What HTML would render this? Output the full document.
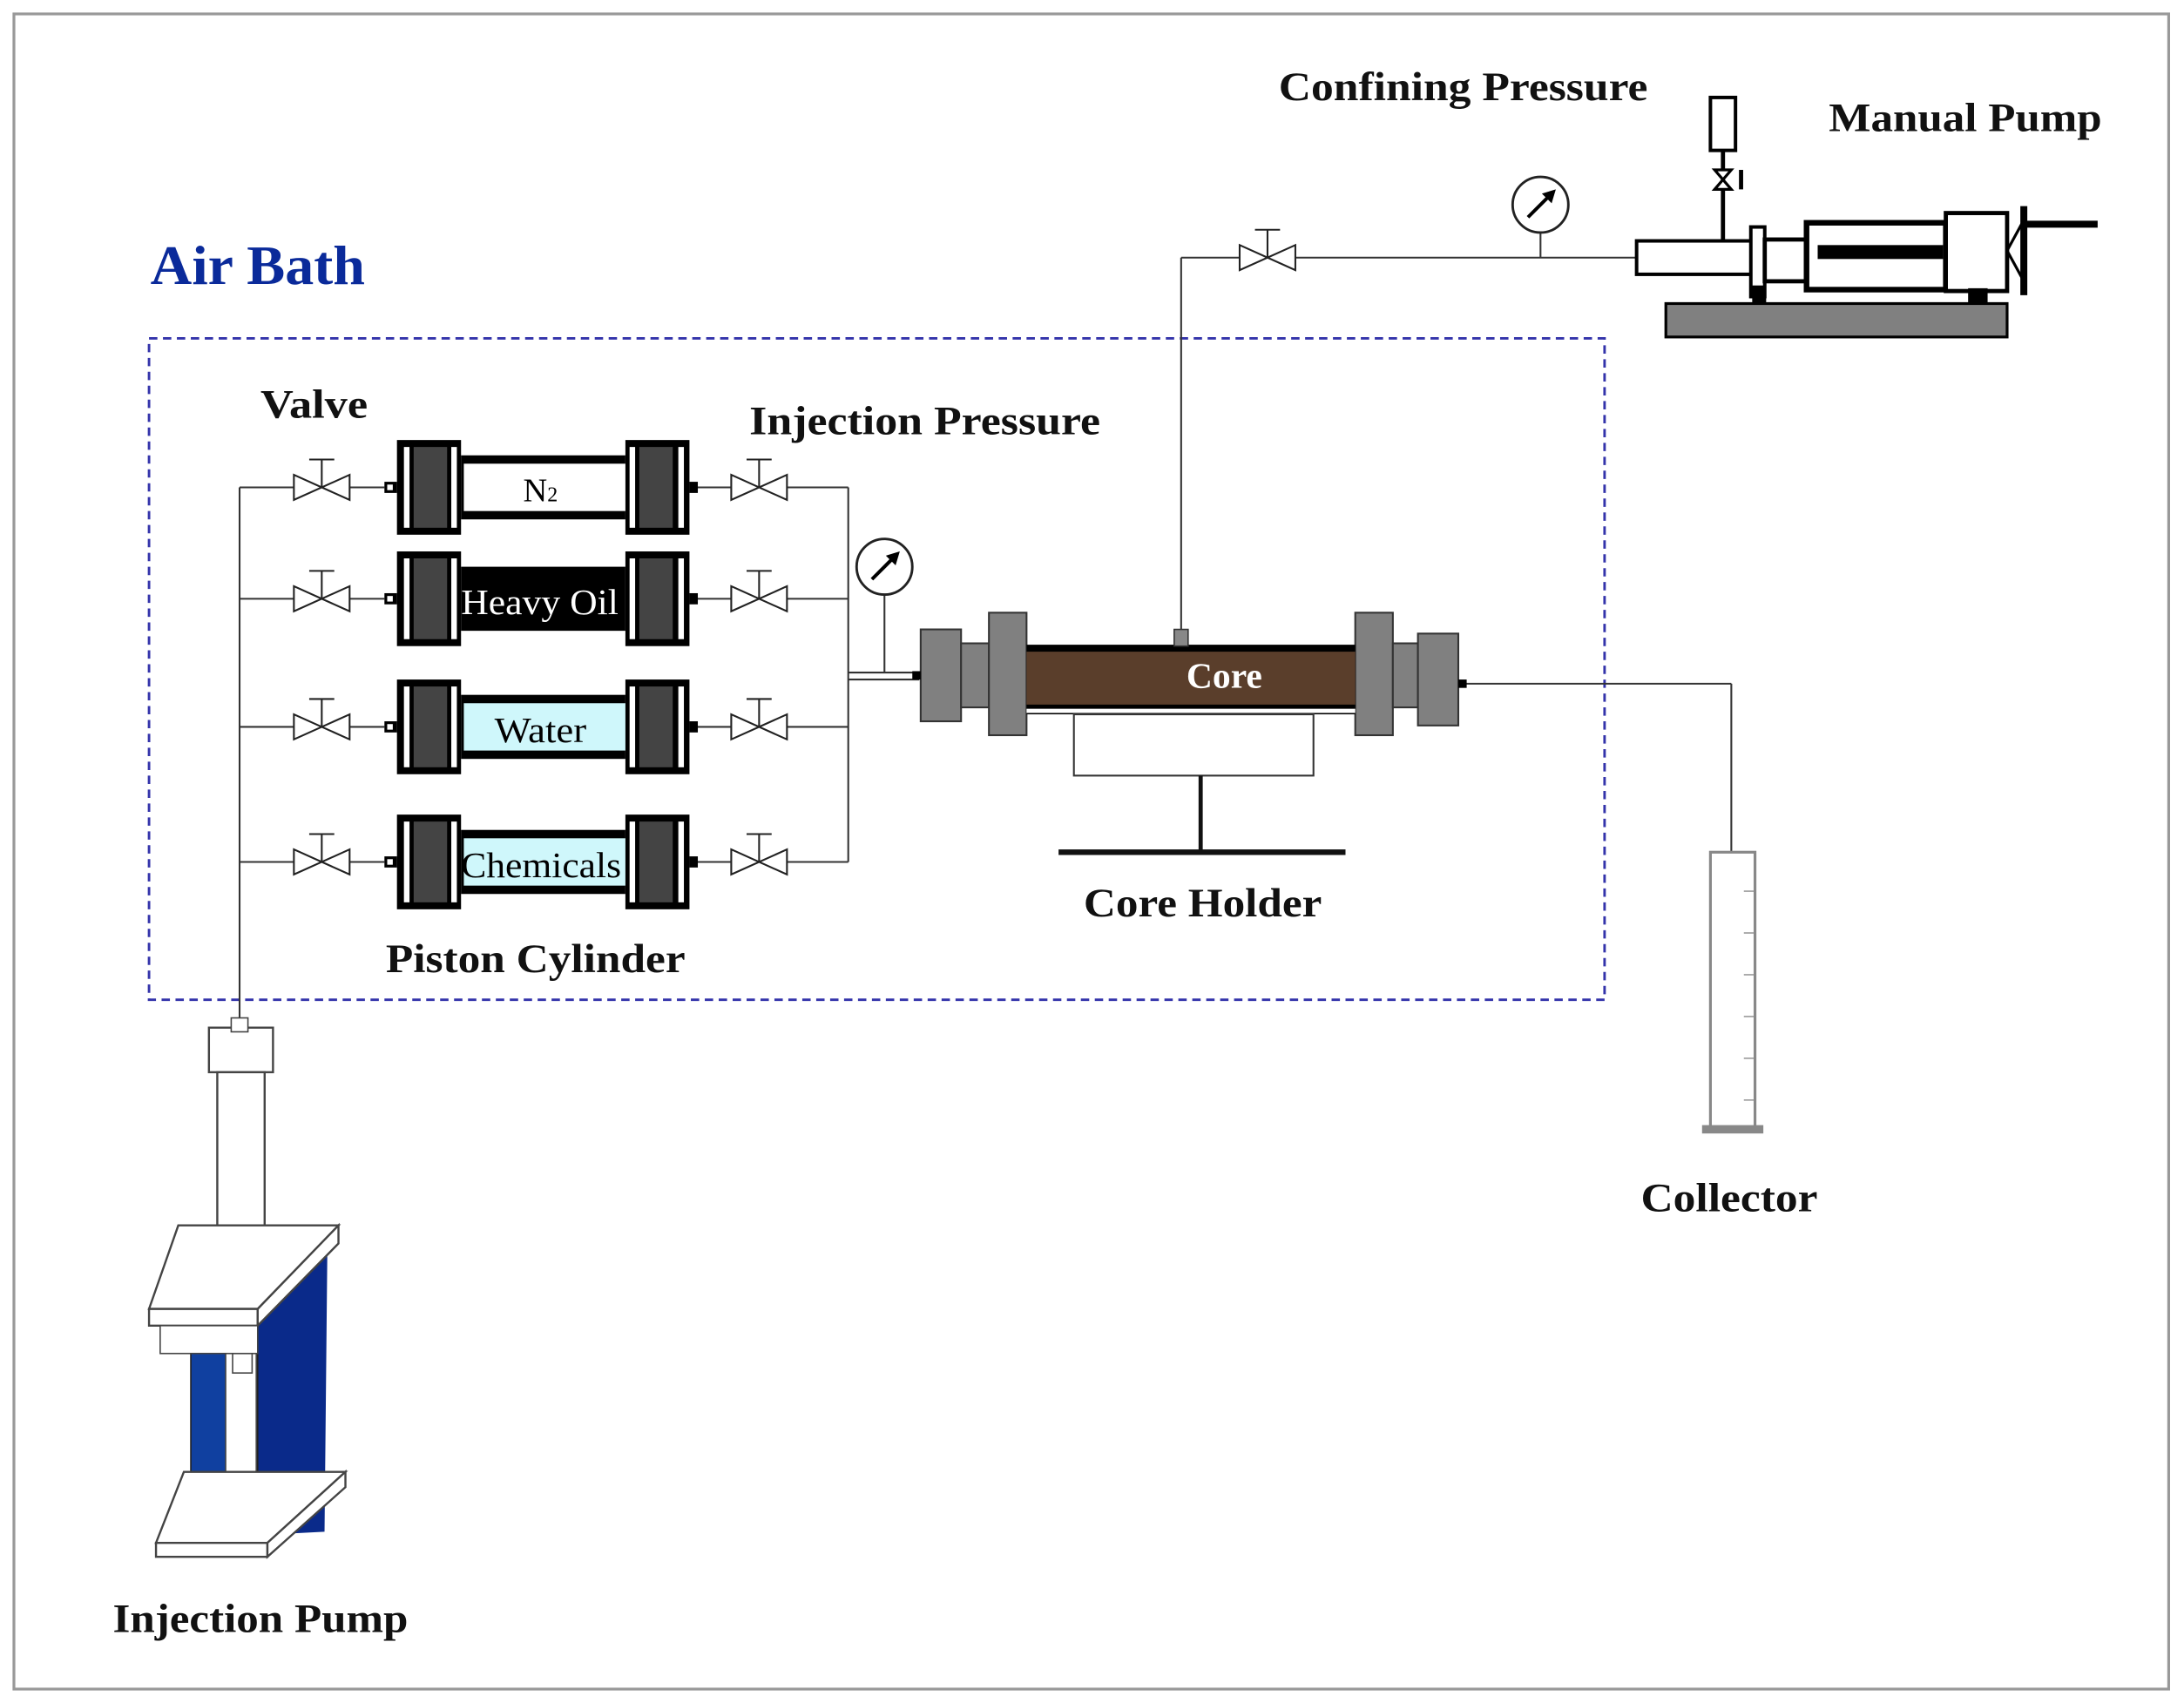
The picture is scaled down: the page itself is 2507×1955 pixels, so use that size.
<!DOCTYPE html>
<html><head><meta charset="utf-8"><style>
html,body{margin:0;padding:0;background:#fff}
svg{display:block}
text{font-family:"Liberation Serif",serif}
.b{font-weight:bold;font-size:29px;fill:#111}
</style></head><body>
<svg width="2507" height="1955" viewBox="0 0 1568 1223" preserveAspectRatio="none" xmlns="http://www.w3.org/2000/svg">
<defs>
<g id="cyl">
 <rect x="285" y="-34" width="46" height="68" fill="#000"/>
 <rect x="290" y="-29" width="4" height="58" fill="#fff"/>
 <rect x="297" y="-29" width="24" height="58" fill="#444"/>
 <rect x="324" y="-29" width="4" height="58" fill="#fff"/>
 <rect x="449" y="-34" width="46" height="68" fill="#000"/>
 <rect x="452" y="-29" width="4" height="58" fill="#fff"/>
 <rect x="459" y="-29" width="24" height="58" fill="#444"/>
 <rect x="487" y="-29" width="4" height="58" fill="#fff"/>
 <rect x="276" y="-4" width="9" height="8" fill="#000"/>
 <rect x="278" y="-2" width="4" height="4" fill="#fff"/>
 <rect x="495" y="-4" width="6" height="8" fill="#000"/>
</g>
<g id="valve" fill="#fff" stroke="#222" stroke-width="1.3">
 <path d="M-20,-9 L20,9 L20,-9 L-20,9 Z"/>
 <line x1="0" y1="0" x2="0" y2="-20"/>
 <line x1="-9" y1="-20" x2="9" y2="-20"/>
</g>
<g id="gauge">
 <circle r="20" fill="#fff" stroke="#222" stroke-width="1.8"/>
 <line x1="-9" y1="9" x2="8" y2="-8" stroke="#000" stroke-width="2.5"/>
 <path d="M11,-11 L1,-8 L8,-1 Z" fill="#000"/>
</g>
</defs>
<rect x="10" y="10" width="1547" height="1203" fill="#fff" stroke="#999" stroke-width="2"/>
<rect x="107" y="243" width="1045" height="475" fill="none" stroke="#33a" stroke-width="1.8" stroke-dasharray="6,4"/>
<text x="108" y="204" font-size="40" font-weight="bold" fill="#0a2a9a" textLength="154" lengthAdjust="spacingAndGlyphs">Air Bath</text>

<g stroke="#333" stroke-width="1.3" fill="none">
 <line x1="172" y1="350" x2="172" y2="735"/>
 <line x1="172" y1="350" x2="276" y2="350"/><line x1="172" y1="430" x2="276" y2="430"/>
 <line x1="172" y1="522" x2="276" y2="522"/><line x1="172" y1="619" x2="276" y2="619"/>
 <line x1="501" y1="350" x2="609" y2="350"/><line x1="501" y1="430" x2="609" y2="430"/>
 <line x1="501" y1="522" x2="609" y2="522"/><line x1="501" y1="619" x2="609" y2="619"/>
 <line x1="609" y1="350" x2="609" y2="619"/>
 <line x1="609" y1="483" x2="660" y2="483"/><line x1="609" y1="488" x2="660" y2="488"/>
 <line x1="635" y1="427" x2="635" y2="483"/>
 <line x1="848" y1="458" x2="848" y2="185"/>
 <line x1="848" y1="185" x2="1175" y2="185"/>
 <line x1="1106" y1="167" x2="1106" y2="185"/>
 <line x1="1047" y1="491" x2="1243" y2="491"/>
 <line x1="1243" y1="491" x2="1243" y2="612"/>
</g>

<g transform="translate(0,350)"><use href="#cyl"/><rect x="331" y="-23" width="118" height="46" fill="#000"/><rect x="333" y="-17" width="116" height="34" fill="#fff"/></g>
<g transform="translate(0,430)"><use href="#cyl"/><rect x="331" y="-23" width="118" height="46" fill="#000"/></g>
<g transform="translate(0,522)"><use href="#cyl"/><rect x="331" y="-23" width="118" height="46" fill="#000"/><rect x="333" y="-17" width="116" height="34" fill="#cff7fb"/></g>
<g transform="translate(0,619)"><use href="#cyl"/><rect x="331" y="-23" width="118" height="46" fill="#000"/><rect x="333" y="-17" width="116" height="34" fill="#cff7fb"/></g>
<text x="388" y="360" font-size="24" text-anchor="middle">N<tspan font-size="15">2</tspan></text>
<text x="331" y="441" font-size="26" fill="#fff" textLength="113" lengthAdjust="spacingAndGlyphs">Heavy Oil</text>
<text x="355" y="533" font-size="26" textLength="66" lengthAdjust="spacingAndGlyphs">Water</text>
<text x="331" y="630" font-size="26" textLength="115" lengthAdjust="spacingAndGlyphs">Chemicals</text>

<use href="#valve" transform="translate(231,350)"/><use href="#valve" transform="translate(231,430)"/>
<use href="#valve" transform="translate(231,522)"/><use href="#valve" transform="translate(231,619)"/>
<use href="#valve" transform="translate(545,350)"/><use href="#valve" transform="translate(545,430)"/>
<use href="#valve" transform="translate(545,522)"/><use href="#valve" transform="translate(545,619)"/>
<use href="#valve" transform="translate(910,185)"/>
<use href="#gauge" transform="translate(635,407)"/>
<use href="#gauge" transform="translate(1106,147)"/>

<g stroke="#333" stroke-width="1.3">
 <rect x="661" y="452" width="29" height="66" fill="#808080"/>
 <rect x="690" y="462" width="20" height="46" fill="#808080"/>
 <rect x="710" y="440" width="27" height="88" fill="#808080"/>
 <rect x="973" y="440" width="27" height="88" fill="#808080"/>
 <rect x="1000" y="462" width="18" height="46" fill="#808080"/>
 <rect x="1018" y="455" width="29" height="66" fill="#808080"/>
</g>
<rect x="737" y="463" width="236" height="50" fill="#000"/>
<rect x="737" y="468" width="236" height="38" fill="#5a3e2b"/>
<rect x="737" y="509" width="236" height="3" fill="#fff"/>
<rect x="843" y="452" width="10" height="12" fill="#888" stroke="#333"/>
<rect x="655" y="482" width="6" height="6" fill="#000"/><rect x="1047" y="488" width="6" height="6" fill="#000"/>
<text x="879" y="494" font-size="26" font-weight="bold" fill="#fff" text-anchor="middle">Core</text>
<rect x="771" y="513" width="172" height="44" fill="none" stroke="#333" stroke-width="1.3"/>
<line x1="862" y1="557" x2="862" y2="612" stroke="#111" stroke-width="3"/>
<line x1="760" y1="612" x2="966" y2="612" stroke="#111" stroke-width="4"/>

<rect x="1228" y="612" width="32" height="198" fill="#fff" stroke="#888" stroke-width="2"/>
<g stroke="#999" stroke-width="1">
<line x1="1252" y1="640" x2="1259" y2="640"/><line x1="1252" y1="670" x2="1259" y2="670"/><line x1="1252" y1="700" x2="1259" y2="700"/><line x1="1252" y1="730" x2="1259" y2="730"/><line x1="1252" y1="760" x2="1259" y2="760"/><line x1="1252" y1="790" x2="1259" y2="790"/>
</g>
<rect x="1222" y="808" width="44" height="6" fill="#888"/>

<rect x="1196" y="218" width="245" height="24" fill="#808080" stroke="#000" stroke-width="2"/>
<rect x="1228" y="70" width="18" height="38" fill="#fff" stroke="#000" stroke-width="2.5"/>
<line x1="1237" y1="108" x2="1237" y2="173" stroke="#000" stroke-width="3"/>
<path d="M1231,122 L1243,122 L1231,136 L1243,136 Z" fill="#fff" stroke="#000" stroke-width="2"/>
<line x1="1250" y1="122" x2="1250" y2="136" stroke="#000" stroke-width="3"/>
<rect x="1175" y="173" width="90" height="24" fill="#fff" stroke="#000" stroke-width="2.5"/>
<rect x="1257" y="163" width="10" height="50" fill="#fff" stroke="#000" stroke-width="2.5"/>
<rect x="1258" y="205" width="10" height="13" fill="#000"/>
<rect x="1267" y="172" width="30" height="30" fill="#fff" stroke="#000" stroke-width="3"/>
<rect x="1297" y="160" width="100" height="48" fill="#fff" stroke="#000" stroke-width="4"/>
<rect x="1305" y="176" width="90" height="10" fill="#000"/>
<rect x="1397" y="153" width="44" height="56" fill="#fff" stroke="#000" stroke-width="3"/>
<rect x="1413" y="207" width="14" height="11" fill="#000"/>
<line x1="1453" y1="148" x2="1453" y2="212" stroke="#000" stroke-width="5"/>
<line x1="1441" y1="180" x2="1453" y2="158" stroke="#000" stroke-width="2"/>
<line x1="1441" y1="180" x2="1453" y2="202" stroke="#000" stroke-width="2"/>
<line x1="1453" y1="161" x2="1506" y2="161" stroke="#000" stroke-width="5"/>

<rect x="150" y="738" width="46" height="32" fill="#fff" stroke="#444" stroke-width="1.5"/>
<rect x="166" y="731" width="12" height="10" fill="#fff" stroke="#444"/>
<rect x="156" y="770" width="34" height="146" fill="#fff" stroke="#444" stroke-width="1.5"/>
<path d="M137,952 L137,1105 L233,1100 L235,900 L185,950 Z" fill="#0a2a8a"/>
<rect x="137" y="952" width="48" height="153" fill="#1040a0" stroke="#222"/>
<rect x="162" y="970" width="22" height="135" fill="#fff" stroke="#444"/>
<rect x="167" y="972" width="14" height="14" fill="#fff" stroke="#444"/>
<path d="M107,940 L128,880 L243,880 L185,940 Z" fill="#fff" stroke="#444" stroke-width="1.5"/>
<path d="M107,940 L185,940 L185,952 L107,952 Z" fill="#fff" stroke="#444" stroke-width="1.5"/>
<path d="M185,952 L243,893 L243,880 L185,940 Z" fill="#fff" stroke="#444" stroke-width="1.5"/>
<rect x="115" y="952" width="70" height="20" fill="#fff" stroke="#444"/>
<path d="M112,1108 L132,1057 L248,1057 L192,1108 Z" fill="#fff" stroke="#444" stroke-width="1.5"/>
<path d="M112,1108 L192,1108 L192,1118 L112,1118 Z" fill="#fff" stroke="#444" stroke-width="1.5"/>
<path d="M192,1108 L248,1057 L248,1068 L192,1118 Z" fill="#fff" stroke="#444" stroke-width="1.5"/>

<text class="b" x="187" y="300" textLength="77" lengthAdjust="spacingAndGlyphs">Valve</text>
<text class="b" x="538" y="312" textLength="252" lengthAdjust="spacingAndGlyphs">Injection Pressure</text>
<text class="b" x="918" y="72" textLength="265" lengthAdjust="spacingAndGlyphs">Confining Pressure</text>
<text class="b" x="1313" y="94" textLength="196" lengthAdjust="spacingAndGlyphs">Manual Pump</text>
<text class="b" x="778" y="658" textLength="171" lengthAdjust="spacingAndGlyphs">Core Holder</text>
<text class="b" x="277" y="698" textLength="215" lengthAdjust="spacingAndGlyphs">Piston Cylinder</text>
<text class="b" x="1178" y="870" textLength="127" lengthAdjust="spacingAndGlyphs">Collector</text>
<text class="b" x="81" y="1172" textLength="212" lengthAdjust="spacingAndGlyphs">Injection Pump</text>
</svg>
</body></html>
